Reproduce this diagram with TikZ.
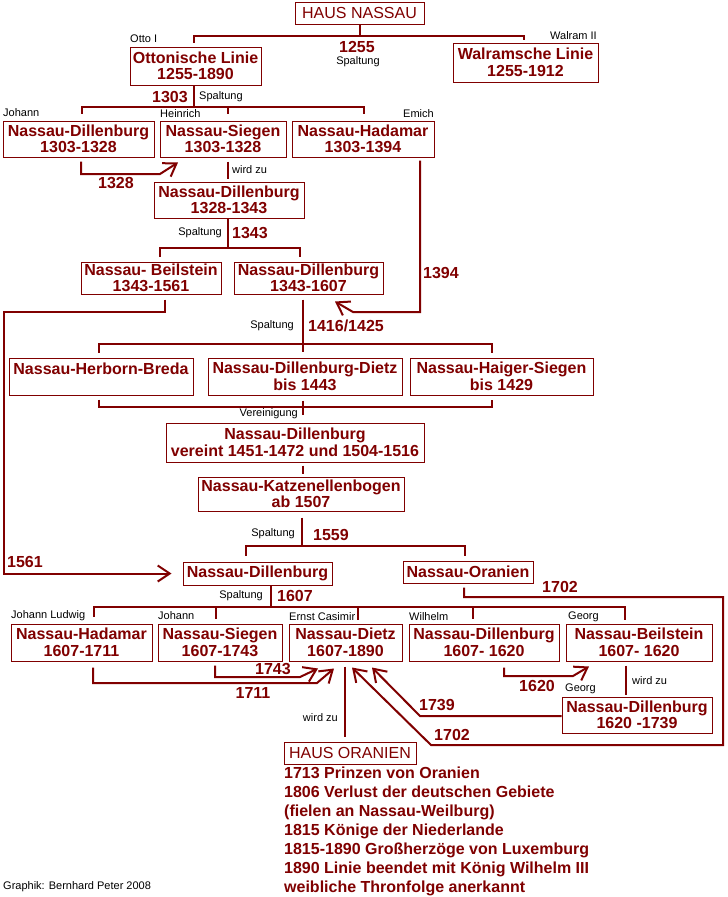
\documentclass[tikz,border=0pt]{standalone}
\usepackage{fontspec}
\setmainfont{Liberation Sans}
\usepackage{tikz}
\usetikzlibrary{arrows.meta}
\definecolor{haus}{RGB}{128,0,0}

\begin{document}
\begin{tikzpicture}[line join=miter,x=1pt,y=-1pt,>={Straight Barb[length=12pt,width=16pt]},
bx/.style={draw=haus,line width=1pt,text=haus,inner sep=0pt,align=center,font=\bfseries\fontsize{16}{16.5}\selectfont},
hx/.style={draw=haus,line width=1pt,text=haus,inner sep=0pt,font=\fontsize{16}{17}\selectfont},
nm/.style={inner sep=0pt,font=\fontsize{11}{12}\selectfont},
yr/.style={inner sep=0pt,text=haus,font=\bfseries\fontsize{16}{17}\selectfont},
cn/.style={draw=haus,line width=2pt}]
\fill[white] (0,0) rectangle (728,897);
\useasboundingbox (0,0) rectangle (728,897);
\node[hx,minimum width=129pt,minimum height=22pt] (hnas) at (359.5,13) {HAUS NASSAU};
\node[bx,minimum width=131pt,minimum height=38pt] (otto) at (195.5,66) {Ottonische Linie\\1255-1890};
\node[bx,minimum width=145pt,minimum height=39pt] (walr) at (525.5,62.5) {Walramsche Linie\\1255-1912};
\node[bx,minimum width=151pt,minimum height=36pt] (dil1) at (78.5,139) {Nassau-Dillenburg\\1303-1328};
\node[bx,minimum width=126pt,minimum height=36pt] (sie1) at (223,139) {Nassau-Siegen\\1303-1328};
\node[bx,minimum width=142pt,minimum height=36pt] (had1) at (363,139) {Nassau-Hadamar\\1303-1394};
\node[bx,minimum width=150pt,minimum height=36pt] (dil2) at (229,200) {Nassau-Dillenburg\\1328-1343};
\node[bx,minimum width=140pt,minimum height=32pt] (bei1) at (151,278) {Nassau- Beilstein\\1343-1561};
\node[bx,minimum width=149pt,minimum height=32pt] (dil3) at (308.5,278) {Nassau-Dillenburg\\1343-1607};
\node[bx,minimum width=184pt,minimum height=37pt] (herb) at (101,376.5) {Nassau-Herborn-Breda\\\mbox{}};
\node[bx,minimum width=194pt,minimum height=37pt] (ddz) at (305,376.5) {Nassau-Dillenburg-Dietz\\bis 1443};
\node[bx,minimum width=183pt,minimum height=37pt] (haig) at (501.5,376.5) {Nassau-Haiger-Siegen\\bis 1429};
\node[bx,minimum width=258pt,minimum height=39pt] (vere) at (295,442.5) {Nassau-Dillenburg\\vereint 1451-1472 und 1504-1516};
\node[bx,minimum width=206pt,minimum height=34pt] (katz) at (301,494) {Nassau-Katzenellenbogen\\ab 1507};
\node[bx,minimum width=149pt,minimum height=23pt] (dil4) at (257.5,573.5) {Nassau-Dillenburg};
\node[bx,minimum width=130pt,minimum height=22pt] (oran) at (468,572) {Nassau-Oranien};
\node[bx,minimum width=141pt,minimum height=37pt] (had2) at (81.5,642.5) {Nassau-Hadamar\\1607-1711};
\node[bx,minimum width=124pt,minimum height=37pt] (sie2) at (220,642.5) {Nassau-Siegen\\1607-1743};
\node[bx,minimum width=113pt,minimum height=37pt] (diez) at (345.5,642.5) {Nassau-Dietz\\1607-1890};
\node[bx,minimum width=150pt,minimum height=37pt] (dil5) at (484,642.5) {Nassau-Dillenburg\\1607- 1620};
\node[bx,minimum width=146pt,minimum height=37pt] (bei2) at (639,642.5) {Nassau-Beilstein\\1607- 1620};
\node[bx,minimum width=150pt,minimum height=36pt] (dil6) at (637,715) {Nassau-Dillenburg\\1620 -1739};
\node[hx,minimum width=132pt,minimum height=22pt] (hora) at (350,753) {HAUS ORANIEN};
\node[yr,anchor=north west,align=left,font=\bfseries\fontsize{16}{19}\selectfont] (hotx) at (284,767) {1713 Prinzen von Oranien\\1806 Verlust der deutschen Gebiete\\(fielen an Nassau-Weilburg)\\1815 Könige der Niederlande\\1815-1890 Großherzöge von Luxemburg\\1890 Linie beendet mit König Wilhelm III\\weibliche Thronfolge anerkannt};
\node[nm,anchor=west] (n-otto) at (130,39) {Otto I};
\node[nm,anchor=east] (n-walr) at (597,36) {Walram II};
\node[nm,anchor=west] (n-dil1) at (3,113) {Johann};
\node[nm,anchor=west] (n-sie1) at (160,114) {Heinrich};
\node[nm,anchor=east] (n-had1) at (434,114) {Emich};
\node[nm,anchor=west] (n-had2) at (11,616) {Johann Ludwig};
\node[nm,anchor=west] (n-sie2) at (158,616) {Johann};
\node[nm,anchor=west] (n-diez) at (289,617) {Ernst Casimir};
\node[nm,anchor=west] (n-dil5) at (409,617) {Wilhelm};
\node[nm,anchor=west] (n-bei2) at (568,617) {Georg};
\node[nm,anchor=west] (n-dil6) at (565,689) {Georg};
\node[nm,anchor=west] (graphik) at (3,887) {Graphik: Bernhard Peter 2008};
\coordinate (j1255) at (360,36);
\coordinate (j1303) at (194,107);
\coordinate (j1343) at (228,248);
\coordinate (j1416) at (303,344);
\coordinate (jver) at (303,407);
\coordinate (j1559) at (302,546);
\coordinate (j1607) at (271,607);
\draw[cn] (hnas.south) -- (hnas.south |- j1255);
\draw[cn] ([xshift=-1.5pt,yshift=4pt]otto.north) |- (j1255) -| ([xshift=-1.5pt,yshift=3pt]walr.north);
\draw[cn] ([xshift=-1.5pt]otto.south) -- (j1303);
\draw[cn] ([xshift=3.5pt,yshift=7pt]dil1.north) |- (j1303) -| ([xshift=1pt,yshift=7pt]had1.north);
\draw[cn] ([xshift=5pt,yshift=7pt]sie1.north) -- ++(0,-7);
\draw[cn,->] ([xshift=2.5pt,yshift=-4pt]dil1.south) |- (160,174) -- ([xshift=-45pt,yshift=-5pt]sie1.south);
\draw[cn] ([xshift=5pt,yshift=-4pt]sie1.south) -- ([xshift=-1pt,yshift=3pt]dil2.north);
\draw[cn] ([xshift=-1pt]dil2.south) -- (j1343);
\draw[cn] ([xshift=9pt,yshift=5pt]bei1.north) |- (j1343) -| ([xshift=-8.5pt,yshift=5pt]dil3.north);
\draw[cn,->] ([xshift=57pt,yshift=-3pt]had1.south) |- (353,312) -- ([xshift=26.5pt,yshift=-7pt]dil3.south);
\draw[cn,->] ([xshift=14pt,yshift=-5pt]bei1.south) |- (4,312) |- ([xshift=-11pt]dil4.west);
\draw[cn] ([xshift=-5.5pt,yshift=-5pt]dil3.south) -- ([yshift=-8pt]j1416);
\draw[cn] ([xshift=-2pt,yshift=5pt]herb.north) |- (j1416) -| ([xshift=-9.5pt,yshift=5pt]haig.north);
\draw[cn] ([xshift=-2pt,yshift=-4pt]herb.south) |- (jver) -| ([xshift=-9.5pt,yshift=-4pt]haig.south);
\draw[cn] ([xshift=-2pt,yshift=-5pt]ddz.south) -- ([xshift=8pt,yshift=8pt]vere.north);
\draw[cn] ([xshift=8pt,yshift=-3pt]vere.south) -- ([xshift=2pt,yshift=3pt]katz.north);
\draw[cn] ([xshift=1pt,yshift=-6pt]katz.south) -- (j1559);
\draw[cn] ([xshift=-11.5pt,yshift=6pt]dil4.north) |- (j1559) -| ([xshift=-3pt,yshift=5pt]oran.north);
\draw[cn,->] ([xshift=-4pt,yshift=-4pt]oran.south) |- (723,597) |- (431,745) -- ([xshift=6.5pt,yshift=-6pt]diez.south);
\draw[cn] ([xshift=13.5pt]dil4.south) -- (j1607);
\draw[cn] ([xshift=12.5pt,yshift=7pt]had2.north) |- (j1607) -| ([xshift=-14pt,yshift=4pt]bei2.north);
\draw[cn] ([xshift=-4pt,yshift=5pt]sie2.north) -- ++(0,-12);
\draw[cn] ([xshift=12.5pt,yshift=4pt]diez.north) -- ++(0,-13);
\draw[cn] ([xshift=-11pt,yshift=5pt]dil5.north) -- ++(0,-12);
\draw[cn,->] ([xshift=-5pt,yshift=-4pt]sie2.south) |- (300,677) -- ([xshift=-27.5pt,yshift=-7pt]diez.south);
\draw[cn,->] ([xshift=11.5pt,yshift=-6pt]had2.south) |- (317,683) -- ([xshift=-11.5pt,yshift=-7pt]diez.south);
\draw[cn] ([xshift=-0.5pt,yshift=-5pt]diez.south) -- ([xshift=-5pt,yshift=5pt]hora.north);
\draw[cn,->] ([xshift=20pt,yshift=-6pt]dil5.south) |- (573,676) -- ([xshift=-50pt,yshift=-5pt]bei2.south);
\draw[cn] ([xshift=-13pt,yshift=-4pt]bei2.south) -- ([xshift=-11pt,yshift=2pt]dil6.north);
\draw[cn,->] ([yshift=-1pt]dil6.west) -- (420,716) -- ([xshift=26.5pt,yshift=-6pt]diez.south);
\node[yr] (y1255) at (357,47) {1255};
\node[nm] (s1255) at (358,62) {Spaltung};
\node[yr] (y1303) at (170,97) {1303};
\node[nm,anchor=west] (s1303) at (199,97) {Spaltung};
\node[yr] (y1328) at (116,183) {1328};
\node[nm,anchor=west] (w1328) at (232,170) {wird zu};
\node[nm,anchor=east] (s1343) at (222,233) {Spaltung};
\node[yr,anchor=west] (y1343) at (232,233) {1343};
\node[yr,anchor=west] (y1394) at (423,273) {1394};
\node[nm,anchor=east] (s1416) at (294,326) {Spaltung};
\node[yr,anchor=west] (y1416) at (308,326) {1416/1425};
\node[nm,anchor=east] (sver) at (298,414) {Vereinigung};
\node[nm,anchor=east] (s1559) at (295,534) {Spaltung};
\node[yr,anchor=west] (y1559) at (313,535) {1559};
\node[yr,anchor=west] (y1561) at (7,562) {1561};
\node[yr] (y1702a) at (560,587) {1702};
\node[nm,anchor=east] (s1607) at (263,596) {Spaltung};
\node[yr,anchor=west] (y1607) at (277,596) {1607};
\node[yr] (y1743) at (273,669) {1743};
\node[yr] (y1711) at (253,693) {1711};
\node[nm,anchor=east] (wdiez) at (338,718) {wird zu};
\node[yr] (y1620) at (537,686) {1620};
\node[nm,anchor=west] (wbei) at (632,681) {wird zu};
\node[yr] (y1739) at (437,705) {1739};
\node[yr] (y1702b) at (452,735) {1702};
\end{tikzpicture}
\end{document}
